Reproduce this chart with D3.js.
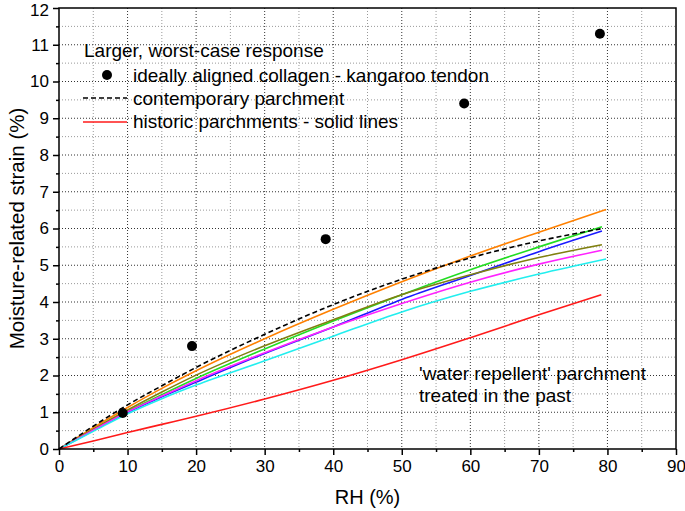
<!DOCTYPE html>
<html><head><meta charset="utf-8">
<script src="https://cdn.jsdelivr.net/npm/d3@7"></script>
<style>body{margin:0;background:#fff}svg{display:block}text{font-family:"Liberation Sans",Arial,sans-serif}</style>
</head><body><svg id="c" width="685" height="511"></svg>
<script>
const xTicks = [0,10,20,30,40,50,60,70,80,90];
const yTicks = [0,1,2,3,4,5,6,7,8,9,10,11,12];
const rh = [0,5,10,15,20,30,40,50,60,70,79];
const kangarooRH = [9.3,19.4,38.9,59.1,78.9];
const kangarooStrain = [0.98,2.8,5.71,9.4,11.3];
const contemporary = [0,0.62,1.2,1.72,2.22,3.12,3.93,4.62,5.2,5.66,5.99];
const historicNames = ["orange","green","blue","olive","magenta","cyan","red"];
const historicColors = ["#ff8000","#22dd22","#1a1aff","#808010","#ff22ff","#22eeee","#ff1a1a"];
const historicEndRH = [79.8,79.2,79.2,79.2,79.2,79.8,79.1];
const historic = [
  [0,0.58,1.13,1.65,2.13,3.0,3.8,4.55,5.25,5.9,6.52],
  [0,0.52,1.02,1.48,1.92,2.72,3.48,4.2,4.88,5.5,6.05],
  [0,0.5,1.0,1.42,1.82,2.6,3.32,4.07,4.72,5.37,5.93],
  [0,0.54,1.06,1.55,2.01,2.81,3.52,4.2,4.74,5.21,5.56],
  [0,0.51,1.01,1.44,1.86,2.62,3.32,3.96,4.54,5.03,5.41],
  [0,0.48,0.96,1.37,1.74,2.4,3.07,3.73,4.29,4.76,5.17],
  [0,0.22,0.45,0.67,0.89,1.36,1.87,2.43,3.03,3.65,4.2]
];
const legendTitle = "Larger, worst-case response";
const legendItems = ["ideally aligned collagen - kangaroo tendon","contemporary parchment","historic parchments - solid lines"];
const annotation = ["'water repellent' parchment","treated in the past"];

const svg = d3.select("#c");
const L=59, R=676, T=8, B=449;
const x = d3.scaleLinear().domain([0,90]).range([L,R]);
const y = d3.scaleLinear().domain([0,12]).range([B,T]);

// grid
const g = svg.append("g");
d3.range(5,90,10).forEach(v=>g.append("line").attr("x1",x(v)).attr("x2",x(v)).attr("y1",T).attr("y2",B).attr("stroke","#999").attr("stroke-width",1).attr("stroke-dasharray","1,2"));
d3.range(0.5,12,1).forEach(v=>g.append("line").attr("x1",L).attr("x2",R).attr("y1",y(v)).attr("y2",y(v)).attr("stroke","#999").attr("stroke-width",1).attr("stroke-dasharray","1,2"));
xTicks.slice(1,-1).forEach(v=>g.append("line").attr("x1",x(v)).attr("x2",x(v)).attr("y1",T).attr("y2",B).attr("stroke","#333").attr("stroke-width",1).attr("stroke-dasharray","1,2"));
yTicks.slice(1,-1).forEach(v=>g.append("line").attr("x1",L).attr("x2",R).attr("y1",y(v)).attr("y2",y(v)).attr("stroke","#333").attr("stroke-width",1).attr("stroke-dasharray","1,2"));

// curves
const line = d3.line().curve(d3.curveMonotoneX);
historic.forEach((s,i)=>{
  const xs = rh.slice(); xs[xs.length-1]=historicEndRH[i];
  svg.append("path").attr("d",line(s.map((v,j)=>[x(xs[j]),y(v)]))).attr("fill","none").attr("stroke",historicColors[i]).attr("stroke-width",1.6);
});
svg.append("path").attr("d",line(contemporary.map((v,j)=>[x(rh[j]),y(v)]))).attr("fill","none").attr("stroke","#000").attr("stroke-width",1.6).attr("stroke-dasharray","5,3");
kangarooRH.forEach((v,i)=>svg.append("circle").attr("cx",x(v)).attr("cy",y(kangarooStrain[i])).attr("r",5).attr("fill","#000"));

// axes
const xa = svg.append("g").attr("transform",`translate(0,${B})`).call(d3.axisBottom(x).tickValues(xTicks).tickSize(6).tickPadding(5));
const xm = svg.append("g").attr("transform",`translate(0,${B})`).call(d3.axisBottom(x).tickValues(d3.range(5,90,10)).tickSize(3).tickFormat(""));
const ya = svg.append("g").attr("transform",`translate(${L},0)`).call(d3.axisLeft(y).tickValues(yTicks).tickSize(6).tickPadding(4));
const ym = svg.append("g").attr("transform",`translate(${L},0)`).call(d3.axisLeft(y).tickValues(d3.range(0.5,12,1)).tickSize(3).tickFormat(""));
[xa,xm,ya,ym].forEach(a=>{a.select(".domain").remove();a.selectAll("line").attr("stroke","#000").attr("stroke-width",1.5);});
[xa,ya].forEach(a=>a.selectAll("text").attr("font-size",17).attr("fill","#000").attr("font-family","Liberation Sans, Arial, sans-serif"));
ya.selectAll("text").filter(d=>d===12).attr("dy","0.42em");
xa.selectAll("text").filter(d=>d===90).attr("text-anchor","end").attr("dx","0.55em");
svg.append("rect").attr("x",L).attr("y",T).attr("width",R-L).attr("height",B-T).attr("fill","none").attr("stroke","#000").attr("stroke-width",1.5);

svg.append("text").attr("x",(L+R)/2).attr("y",504).attr("text-anchor","middle").attr("font-size",20).text("RH (%)");
svg.append("text").attr("transform",`translate(24,${(T+B)/2}) rotate(-90)`).attr("text-anchor","middle").attr("font-size",20.5).text("Moisture-related strain (%)");

// legend
svg.append("text").attr("x",84).attr("y",57).attr("font-size",19).text(legendTitle);
svg.append("circle").attr("cx",107).attr("cy",75).attr("r",5).attr("fill","#000");
svg.append("line").attr("x1",83).attr("x2",127).attr("y1",98).attr("y2",98).attr("stroke","#000").attr("stroke-width",1.4).attr("stroke-dasharray","5,3");
svg.append("line").attr("x1",83).attr("x2",127).attr("y1",122).attr("y2",122).attr("stroke","#ff1a1a").attr("stroke-width",1.4);
legendItems.forEach((t,i)=>svg.append("text").attr("x",133).attr("y",81.5+i*23).attr("font-size",19).text(t));

annotation.forEach((t,i)=>svg.append("text").attr("x",419).attr("y",380+i*21.5).attr("font-size",19).text(t));
</script></body></html>
